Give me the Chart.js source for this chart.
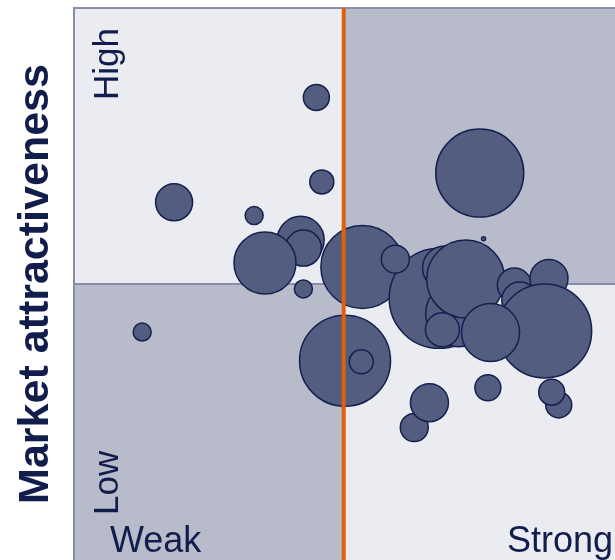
<!DOCTYPE html>
<html>
<head>
<meta charset="utf-8">
<script src="https://cdn.jsdelivr.net/npm/chart.js@4/dist/chart.umd.min.js"></script>
<style>
  html, body { margin: 0; padding: 0; background: #fff; }
  #wrap { width: 615px; height: 560px; }
</style>
</head>
<body>
<div id="wrap"><canvas id="matrix" width="615" height="560"></canvas></div>
<script>
// competitive strength (x), market attractiveness (y), bubble size in px (r)
// listed in drawing order
const strength = [18.5, 33.3, 12.6, 44.8, 45.8, 41.9, 42.4, 35.3, 42.4,
  53.3, 67.5, 68.5, 71.1, 59.4, 72.4, 68.1, 81.4, 82.4, 87.8, 87.0, 77.0,
  50.1, 53.1, 62.9, 65.7, 76.5, 89.6, 88.3, 75.7, 75.0]
const attractiveness = [64.8, 62.4, 41.3, 83.8, 68.5, 58.0, 56.5, 53.8, 49.1,
  53.1, 47.4, 52.9, 44.6, 54.5, 50.9, 41.7, 49.8, 47.1, 51.0, 41.5, 41.2,
  36.1, 35.9, 24.0, 28.5, 31.2, 28.1, 30.4, 58.2, 70.1]
const size = [18.5, 9, 9, 13, 12, 23.5, 18, 31, 9,
  41.5, 50, 22, 33, 14, 39, 17, 17, 18, 19, 47, 29,
  45.5, 12, 14, 19, 13, 13, 13, 2, 44]

const yTitle = 'Market attractiveness'
const cornerLabels = { high: 'High', low: 'Low', weak: 'Weak', strong: 'Strong' }

const navy = '#111d4b'
const lightFill = '#ebecf1'
const darkFill = '#b8bbca'

const points = strength.map((x, i) => ({ x: x, y: attractiveness[i], r: size[i] }))

const quadrants = {
  id: 'quadrants',
  beforeDatasetsDraw(chart) {
    const { ctx, chartArea: a, scales } = chart
    const mx = scales.x.getPixelForValue(50)
    const my = scales.y.getPixelForValue(50)
    ctx.save()
    ctx.fillStyle = lightFill
    ctx.fillRect(a.left, a.top, mx - a.left, my - a.top)
    ctx.fillRect(mx, my, a.right - mx, a.bottom - my)
    ctx.fillStyle = darkFill
    ctx.fillRect(mx, a.top, a.right - mx, my - a.top)
    ctx.fillRect(a.left, my, mx - a.left, a.bottom - my)

    ctx.strokeStyle = '#888ea9'
    ctx.lineWidth = 2
    ctx.beginPath()
    ctx.moveTo(a.left, a.bottom)
    ctx.lineTo(a.left, a.top)
    ctx.lineTo(a.right, a.top)
    ctx.moveTo(a.left, my)
    ctx.lineTo(a.right, my)
    ctx.stroke()

    // corner labels
    ctx.fillStyle = navy
    ctx.font = '35px "Liberation Sans", Arial, sans-serif'
    ctx.textBaseline = 'alphabetic'
    ctx.textAlign = 'left'
    ctx.save()
    ctx.translate(118, 100)
    ctx.rotate(-Math.PI / 2)
    ctx.fillText(cornerLabels.high, 0, 0)
    ctx.restore()
    ctx.save()
    ctx.translate(118, 515)
    ctx.rotate(-Math.PI / 2)
    ctx.fillText(cornerLabels.low, 0, 0)
    ctx.restore()
    ctx.font = '36px "Liberation Sans", Arial, sans-serif'
    ctx.fillText(cornerLabels.weak, 110, 552)
    ctx.textAlign = 'right'
    ctx.fillText(cornerLabels.strong, 613, 552)

    // axis title
    ctx.save()
    ctx.font = 'bold 43px "Liberation Sans", Arial, sans-serif'
    ctx.textAlign = 'center'
    ctx.translate(48, (a.top + a.bottom) / 2)
    ctx.rotate(-Math.PI / 2)
    ctx.fillText(yTitle, 0, 0)
    ctx.restore()
    ctx.restore()
  },
  afterDatasetsDraw(chart) {
    const { ctx, chartArea: a, scales } = chart
    const mx = scales.x.getPixelForValue(50) - 0.8
    ctx.save()
    ctx.strokeStyle = '#df600d'
    ctx.lineWidth = 4
    ctx.beginPath()
    ctx.moveTo(mx, a.top)
    ctx.lineTo(mx, a.bottom)
    ctx.stroke()
    ctx.restore()
  }
}

new Chart(document.getElementById('matrix'), {
  type: 'bubble',
  data: {
    datasets: [{
      data: points,
      backgroundColor: '#535d80',
      borderColor: '#15204f',
      borderWidth: 1.5,
      hoverRadius: 0,
      clip: false
    }]
  },
  options: {
    responsive: false,
    animation: false,
    events: [],
    layout: { autoPadding: false, padding: { left: 74, top: 8, right: 0, bottom: 0 } },
    plugins: {
      legend: { display: false },
      tooltip: { enabled: false }
    },
    scales: {
      x: { type: 'linear', min: 0, max: 100, display: false },
      y: { type: 'linear', min: 0, max: 100, display: false }
    }
  },
  plugins: [quadrants]
})
</script>
</body>
</html>
